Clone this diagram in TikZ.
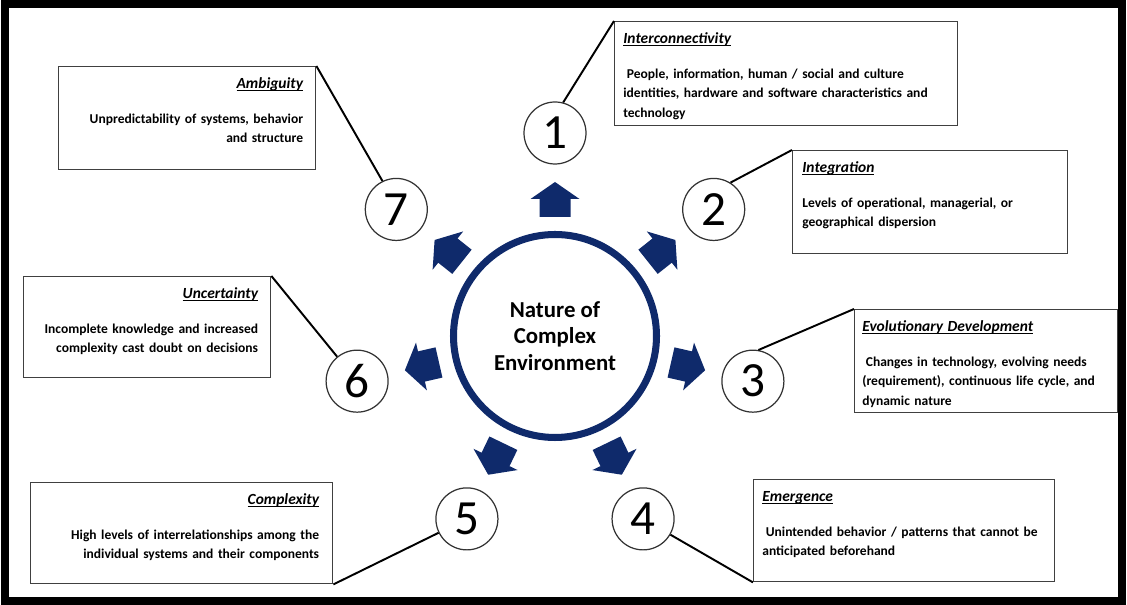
\documentclass[tikz,border=0pt]{standalone}
\usepackage{fontspec}
\setmainfont{Carlito}

\definecolor{navy}{HTML}{0F2A6B}
\def\unitpx{0.02cm}
\def\ringsep{203}
\newcommand\boxtitle[1]{{\fontsize{8.8}{11}\selectfont\itshape\underline{\smash{#1}\vphantom{A}}}}

\begin{document}
\begin{tikzpicture}[x=\unitpx,y=\unitpx]
  \tikzstyle{box}=[draw=black!75, line width=0.8pt, anchor=north west, inner sep=0pt]
  \tikzstyle{txt}=[inner sep=0pt, font=\fontsize{7.7}{11}\selectfont\bfseries]
  \tikzstyle{lefttxt}=[txt, anchor=north west, align=left]
  \tikzstyle{righttxt}=[txt, anchor=north east, align=right]
  \tikzstyle{num}=[circle, draw=black!80, line width=0.7pt, fill=white,
    minimum size=62*\unitpx, inner sep=0pt, font=\fontsize{28}{28}\selectfont]
  \tikzstyle{hub}=[circle, draw=navy, line width=4pt, minimum size=203*\unitpx,
    align=center, font=\fontsize{13}{15}\selectfont\bfseries]
  \tikzstyle{link}=[draw=black, line width=1.1pt]

  \useasboundingbox (0,0) rectangle (1127,605);
  \draw[line width=4pt] (5,4) rectangle (1122,601);

  % Centre ring
  \node[hub] (c) at (555,269) {Nature of\\Complex\\Environment};

  % Numbered rings and block arrows
  \foreach \k in {1,...,7}{
    \pgfmathsetmacro\ang{90-(\k-1)*360/7}
    \path (c) ++(\ang:\ringsep) node[num] (n\k) {\k};
    \fill[navy, shift={(c)}, rotate=\ang] (119,-15.5) -- (137,-15.5) -- (137,-24.5)
      -- (154,0) -- (137,24.5) -- (137,15.5) -- (119,15.5) -- cycle;
  }

  % Text boxes
  \node[box, minimum width=343*\unitpx, minimum height=104*\unitpx] (b1) at (614,584) {};
  \node[lefttxt, text width=325*\unitpx] (t1) at ([shift={(9,-12)}]b1.north west)
    {\boxtitle{Interconnectivity}\\[9pt]
     \hspace*{2pt}People, information, human / social and culture\\
     identities, hardware and software characteristics and\\technology};

  \node[box, minimum width=275*\unitpx, minimum height=103*\unitpx] (b2) at (792,455) {};
  \node[lefttxt, text width=255*\unitpx] (t2) at ([shift={(10,-12)}]b2.north west)
    {\boxtitle{Integration}\\[9pt]
     Levels of operational, managerial, or\\geographical dispersion};

  \node[box, minimum width=263*\unitpx, minimum height=103*\unitpx] (b3) at (854,296) {};
  \node[lefttxt, text width=250*\unitpx] (t3) at ([shift={(8,-12)}]b3.north west)
    {\boxtitle{Evolutionary Development}\\[9pt]
     \hspace*{2pt}Changes in technology, evolving needs\\
     (requirement), continuous life cycle, and\\dynamic nature};

  \node[box, minimum width=301*\unitpx, minimum height=102*\unitpx] (b4) at (753,126) {};
  \node[lefttxt, text width=292*\unitpx] (t4) at ([shift={(9,-12)}]b4.north west)
    {\boxtitle{Emergence}\\[9pt]
     \hspace*{2pt}Unintended behavior / patterns that cannot be\\anticipated beforehand};

  \node[box, minimum width=302*\unitpx, minimum height=101*\unitpx] (b5) at (30,123) {};
  \node[righttxt, text width=285*\unitpx] (t5) at ([shift={(-14,-12)}]b5.north east)
    {\boxtitle{Complexity}\\[9pt]
     High levels of interrelationships among the\\
     individual systems and their components};

  \node[box, minimum width=247*\unitpx, minimum height=101*\unitpx] (b6) at (23,329) {};
  \node[righttxt, text width=230*\unitpx] (t6) at ([shift={(-13,-12)}]b6.north east)
    {\boxtitle{Uncertainty}\\[9pt]
     Incomplete knowledge and increased\\complexity cast doubt on decisions};

  \node[box, minimum width=257*\unitpx, minimum height=103*\unitpx] (b7) at (58,539) {};
  \node[righttxt, text width=240*\unitpx] (t7) at ([shift={(-13,-12)}]b7.north east)
    {\boxtitle{Ambiguity}\\[9pt]
     Unpredictability of systems, behavior\\and structure};

  % Connectors
  \draw[link] (b1.north west) -- (n1.75);
  \draw[link] (b2.north west) -- (n2.58);
  \draw[link] (b3.north west) -- (n3.80);
  \draw[link] (b4.south west) -- (n4);
  \draw[link] (b5.south east) -- (n5);
  \draw[link] (b6.north east) -- (n6);
  \draw[link] (b7.north east) -- (n7.116);
\end{tikzpicture}
\end{document}
